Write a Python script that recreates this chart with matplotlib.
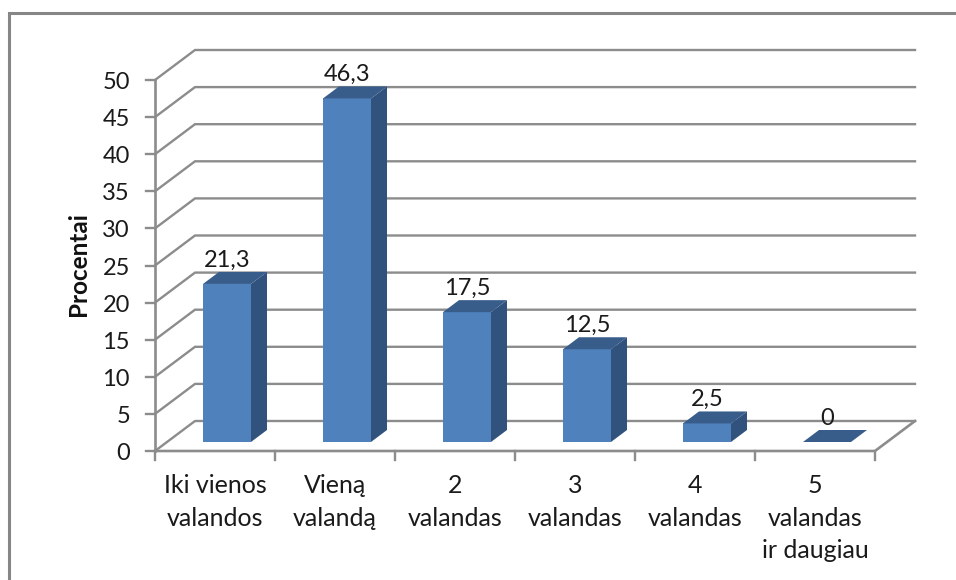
import numpy as np
import matplotlib
matplotlib.use('Agg')
import matplotlib.pyplot as plt
from matplotlib.patches import Polygon

categories = ['Iki vienos\nvalandos', 'Vieną\nvalandą', '2\nvalandas', '3\nvalandas', '4\nvalandas', '5\nvalandas\nir daugiau']
values = [21.3, 46.3, 17.5, 12.5, 2.5, 0]
labels = ['21,3', '46,3', '17,5', '12,5', '2,5', '0']
y_ticks = np.arange(0, 55, 5)

W, H = 956, 580
PX_X = 120.0   # pixels per category
PX_Y = 7.42    # pixels per percent
X0, Y0 = 155, 451  # pixel position of the axes origin

plt.rcParams['font.family'] = ['Lato', 'DejaVu Sans']
GRID = '#8c8c8c'
TEXT = '#1a1a1a'

fig = plt.figure(figsize=(W / 100, H / 100), dpi=100)
ax = fig.add_axes([0, 0, 1, 1])
ax.set_xlim(-X0 / PX_X, (W - X0) / PX_X)
ax.set_ylim(-(H - Y0) / PX_Y, Y0 / PX_Y)
ax.axis('off')

# depth offsets in data units
wall_dx, wall_dy = 40 / PX_X, 30 / PX_Y
bar_dx, bar_dy = 12 / PX_X, 9 / PX_Y
top_dx, top_dy = 16 / PX_X, 12 / PX_Y
bar_w = 48 / PX_X
n = len(categories)

# chart frame, only the top and left edges are inside the crop
ax.plot([-146.5 / PX_X, -146.5 / PX_X, (W - X0) / PX_X], [-(H - Y0) / PX_Y, (Y0 - 13.5) / PX_Y, (Y0 - 13.5) / PX_Y],
        color='#868686', lw=2.2, solid_joinstyle='miter')

# gridlines on the side and back walls
for t in y_ticks:
    ax.plot([0, wall_dx, n + wall_dx], [t, t + wall_dy, t + wall_dy], color=GRID, lw=1.7, solid_joinstyle='miter')
    ax.plot([-9 / PX_X, 0], [t, t], color=GRID, lw=1.7)
    ax.text(-25 / PX_X, t - 0.35, str(t), ha='right', va='center', fontsize=17, color=TEXT)

# floor and axes
ax.plot([0, 0], [0, 50], color=GRID, lw=1.9)
ax.plot([0, n, n + wall_dx], [0, 0, wall_dy], color=GRID, lw=1.9, solid_joinstyle='miter')
for i in range(n + 1):
    ax.plot([i, i], [0, -9 / PX_Y], color=GRID, lw=1.7)

# bars
for i, v in enumerate(values):
    x = i + 0.5 - bar_w / 2 + bar_dx
    x0, x1 = x, x + bar_w
    y0, y1 = bar_dy, v + bar_dy
    if v > 0:
        ax.add_patch(Polygon([(x0, y0), (x1, y0), (x1, y1), (x0, y1)], fc='#4f81bd', ec='none', zorder=3))
        ax.add_patch(Polygon([(x1, y0), (x1 + top_dx, y0 + top_dy), (x1 + top_dx, y1 + top_dy), (x1, y1)],
                             fc='#30527c', ec='none', zorder=3))
    ax.add_patch(Polygon([(x0, y1), (x1, y1), (x1 + top_dx, y1 + top_dy), (x0 + top_dx, y1 + top_dy)],
                         fc='#385d8a', ec='none', zorder=3))
    ax.text(x + bar_w / 2, y1 + top_dy + 0.2, labels[i], ha='center', va='bottom',
            fontsize=17, color=TEXT, zorder=4)

# category labels
for i, c in enumerate(categories):
    ax.text(i + 0.5, -23 / PX_Y, c, ha='center', va='top', fontsize=18, color=TEXT, linespacing=1.5)

ax.text(-76 / PX_X, 25.2, 'Procentai', rotation=90, ha='center', va='center', fontsize=17.5, fontweight='bold', color='#111111')

fig.savefig('out.png', dpi=100)
